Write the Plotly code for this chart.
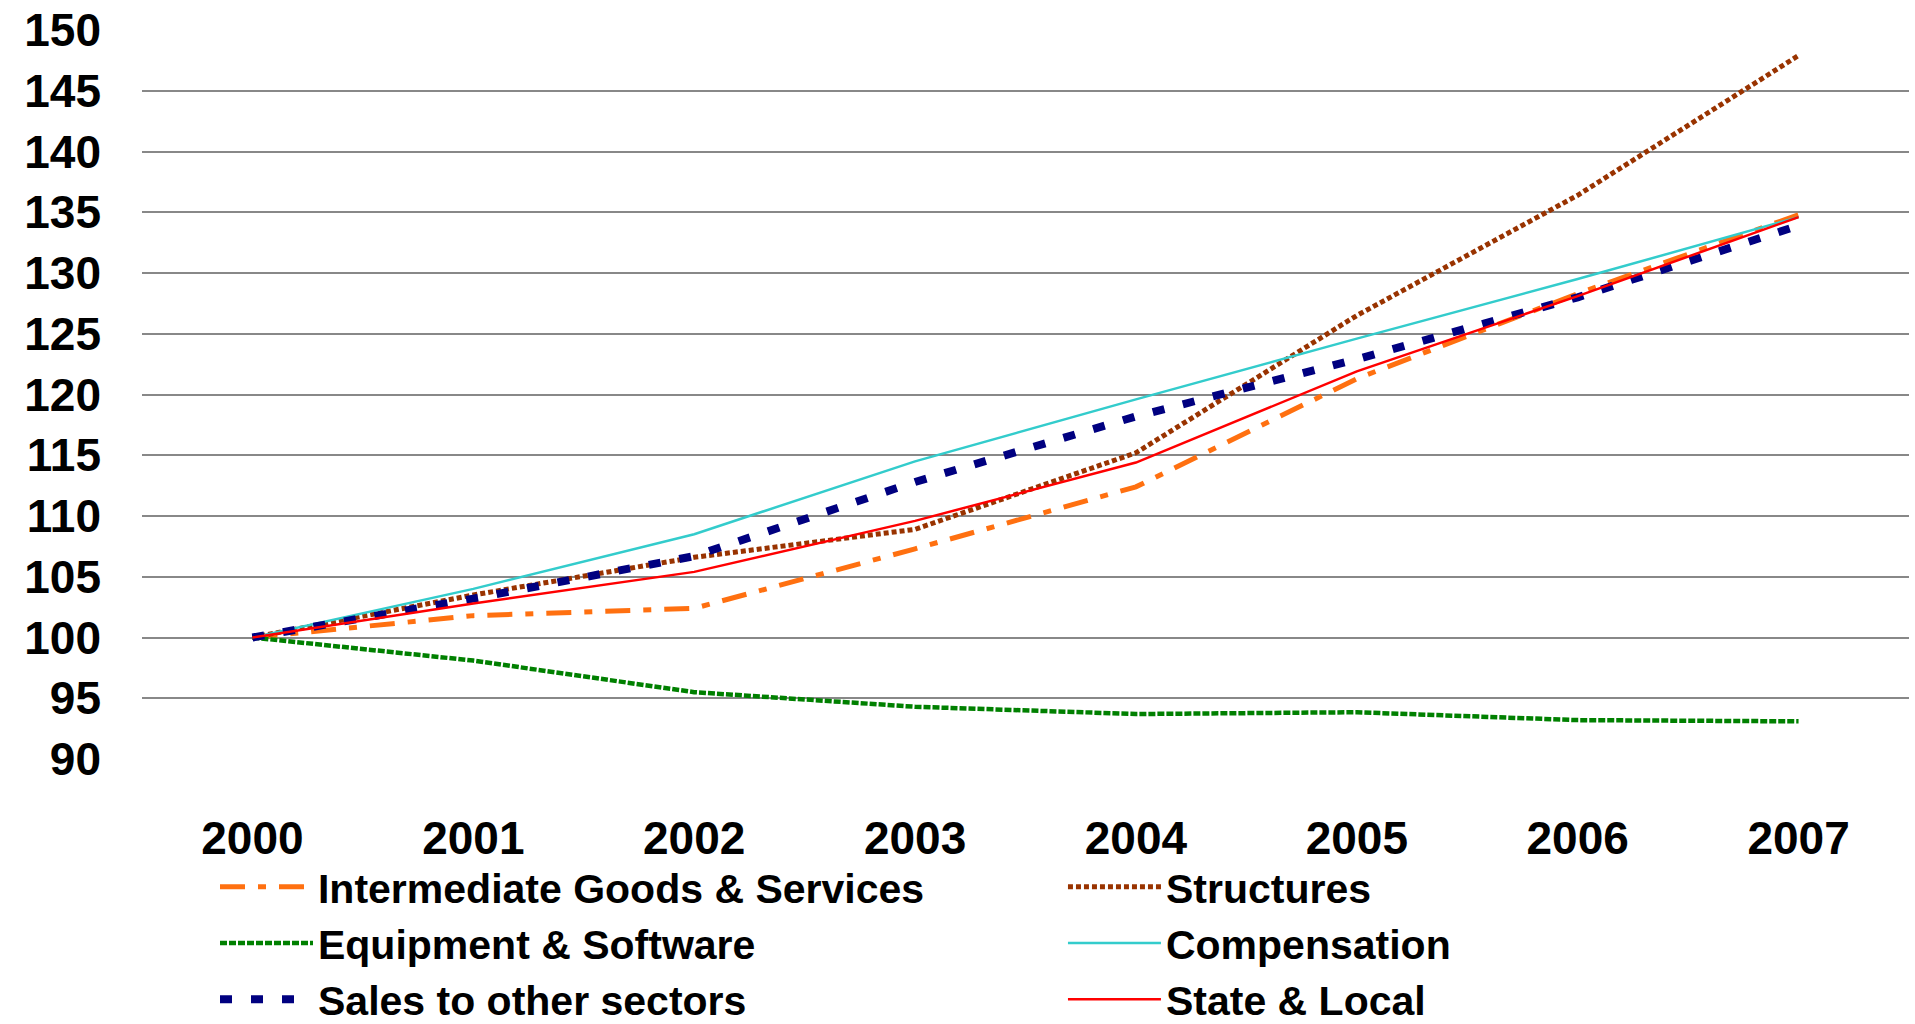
import plotly.graph_objects as go

years = ["2000", "2001", "2002", "2003", "2004", "2005", "2006", "2007"]

intermediate = [100, 101.8, 102.4, 107.3, 112.4, 121.3, 128.3, 134.8]
structures = [100, 103.5, 106.6, 108.9, 115.2, 126.5, 136.4, 147.9]
equipment = [100, 98.1, 95.5, 94.3, 93.7, 93.85, 93.2, 93.1]
compensation = [100, 104.0, 108.5, 114.5, 119.6, 124.6, 129.5, 134.6]
sales = [100, 103.2, 106.7, 112.8, 118.2, 122.9, 128.0, 133.9]
state_local = [100, 102.8, 105.4, 109.6, 114.4, 121.9, 128.1, 134.6]

y_ticks = [90, 95, 100, 105, 110, 115, 120, 125, 130, 135, 140, 145, 150]

series = [
    ("Intermediate Goods & Services", intermediate, "#FF7010", 5, "25px,13px,8px,13px", "legend"),
    ("Structures", structures, "#993300", 5, "5px,3px", "legend2"),
    ("Equipment & Software", equipment, "#008000", 4.5, "7px,2px", "legend"),
    ("Compensation", compensation, "#33CCCC", 2.5, "solid", "legend2"),
    ("Sales to other sectors", sales, "#000080", 8, "12px,19px", "legend"),
    ("State & Local", state_local, "#FF0000", 2.5, "solid", "legend2"),
]

fig = go.Figure()
for i, (name, vals, color, width, dash, leg) in enumerate(series):
    fig.add_trace(go.Scatter(
        x=years, y=vals, name=name, mode="lines",
        line=dict(color=color, width=width, dash=dash),
        legend=leg, legendgroup="g%d" % i,
    ))

legend_font = dict(family="Liberation Sans, Arial", size=41, color="black", weight="bold")

fig.update_layout(
    width=1915, height=1024,
    margin=dict(l=142, r=6, t=30, b=265, autoexpand=False),
    paper_bgcolor="white", plot_bgcolor="white",
    font=dict(family="Liberation Sans, Arial", color="black"),
    legend=dict(x=0.0413, y=-0.1298, xanchor="left", yanchor="top", orientation="v",
                font=legend_font, tracegroupgap=0, itemwidth=93, bgcolor="rgba(0,0,0,0)"),
    legend2=dict(x=0.5212, y=-0.1298, xanchor="left", yanchor="top", orientation="v",
                 font=legend_font, tracegroupgap=0, itemwidth=93, bgcolor="rgba(0,0,0,0)"),
    showlegend=True,
)

fig.update_xaxes(
    type="category", range=[-0.5, 7.5], showgrid=False, showline=False, zeroline=False,
    ticks="", tickfont=dict(family="Liberation Sans, Arial", size=46, color="black", weight="bold"),
    ticklabelstandoff=48,
)
fig.update_yaxes(
    range=[90, 150], tickvals=y_ticks, ticktext=[str(v) for v in y_ticks],
    showgrid=True, gridcolor="#888888", gridwidth=2, showline=False, zeroline=False,
    ticks="", tickfont=dict(family="Liberation Sans, Arial", size=46, color="black", weight="bold"),
    ticklabelstandoff=40,
)

fig.write_html("out.html")
